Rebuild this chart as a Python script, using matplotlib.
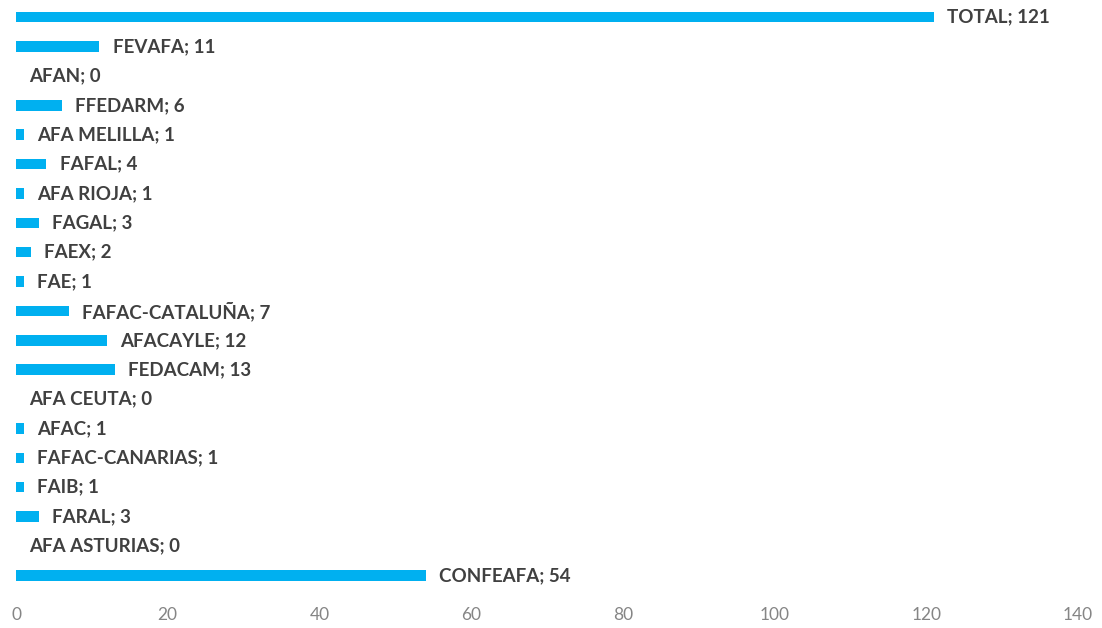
import matplotlib
matplotlib.use("Agg")
import matplotlib.pyplot as plt

categories = ["CONFEAFA", "AFA ASTURIAS", "FARAL", "FAIB", "FAFAC-CANARIAS", "AFAC",
              "AFA CEUTA", "FEDACAM", "AFACAYLE", "FAFAC-CATALUÑA", "FAE", "FAEX",
              "FAGAL", "AFA RIOJA", "FAFAL", "AFA MELILLA", "FFEDARM", "AFAN", "FEVAFA", "TOTAL"]
values = [54, 0, 3, 1, 1, 1, 0, 13, 12, 7, 1, 2, 3, 1, 4, 1, 6, 0, 11, 121]
xticks = [0, 20, 40, 60, 80, 100, 120, 140]

W, H = 1102, 628
fig = plt.figure(figsize=(W / 100, H / 100), dpi=100)
ax = fig.add_axes([16 / W, 1 - 590 / H, (1078 - 16) / W, (590 - 2.5) / H])

ypos = list(range(len(categories)))
ax.barh(ypos, values, height=0.36, color="#00B0F0")
ax.set_xlim(0, 140)
ax.set_ylim(-0.5, len(categories) - 0.5)

for y, c, v in zip(ypos, categories, values):
    ax.annotate(f"{c}; {v}", xy=(v, y), xytext=(9.5, 0), textcoords="offset points",
                ha="left", va="center", fontsize=13.5, fontweight="bold",
                color="#404040", family="Lato")

ax.set_xticks(xticks)
ax.set_xticklabels([str(t) for t in xticks], family="Lato", fontsize=12.5,
                   color="#858585")
ax.tick_params(axis="x", length=0, pad=12)
ax.set_yticks([])
for s in ax.spines.values():
    s.set_visible(False)

fig.savefig("out.png", dpi=100)
